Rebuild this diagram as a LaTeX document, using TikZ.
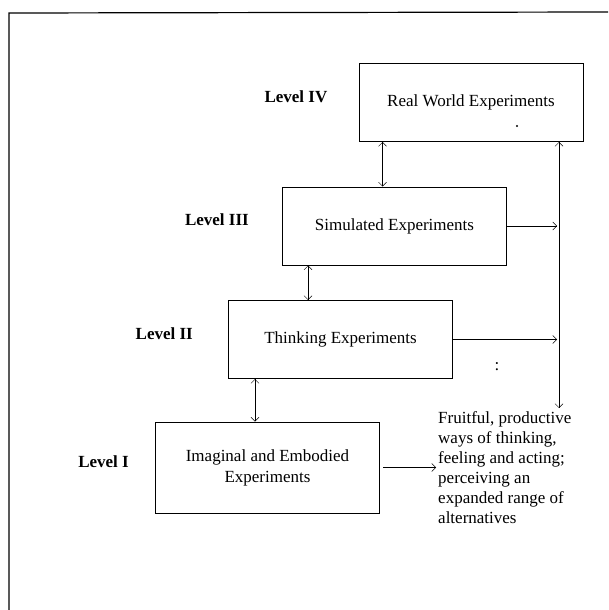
\documentclass[tikz,border=0pt]{standalone}
\usepackage{fontspec}
\setmainfont{Liberation Serif}
\usetikzlibrary{positioning,arrows.meta}

\begin{document}
\begin{tikzpicture}[x=1pt, y=-1pt,
    >={Straight Barb[length=4pt,width=8pt]},
    levelbox/.style={draw, line width=1pt, minimum width=224pt, minimum height=78pt, align=center, font=\fontsize{17}{21}\selectfont},
    levellabel/.style={inner sep=0pt, yshift=6pt, font=\fontsize{17}{21}\selectfont\bfseries},
    outtext/.style={inner sep=0pt, align=left, font=\fontsize{17}{20}\selectfont}
]
\useasboundingbox (0,0) rectangle (608,610);
\draw[line width=1.2pt] (608,12) -- (9,13) -- (9,610);
\node[levelbox](real) at (471,102.5){Real World Experiments};
\node[levelbox](sim) at (394.5,226){Simulated Experiments};
\node[levelbox](think) at (340.5,339.5){Thinking Experiments};
\node[levelbox, minimum height=91pt](emb) at (267.5,467.5){Imaginal and Embodied\\Experiments};
\node[levellabel](lvlfour)[left=31pt of real]{Level IV};
\node[levellabel](lvlthree)[left=33pt of sim]{Level III};
\node[levellabel](lvltwo)[left=35pt of think]{Level II};
\node[levellabel](lvlone)[left=26pt of emb]{Level I};
\node[outtext, anchor=north west](fruit) at (438,411){Fruitful, productive\\ways of thinking,\\feeling and acting;\\perceiving an\\expanded range of\\alternatives};
\node[font=\fontsize{17}{21}\selectfont](colon) at (497,367){:};
\fill (517,126) circle (1.2pt);
\coordinate (rail) at (559,0);
\draw[<->] ([xshift=24pt]real.south west) -- ([xshift=24pt]real.south west |- sim.north);
\draw[<->] ([xshift=26pt]sim.south west) -- ([xshift=26pt]sim.south west |- think.north);
\draw[<->] ([xshift=27pt]think.south west) -- ([xshift=27pt]think.south west |- emb.north);
\draw[<->] (rail |- real.south) -- (rail |- fruit.north) [shorten >=3pt];
\draw[->, shorten >=2pt] (sim.east) -- (rail |- sim.east);
\draw[->, shorten >=2pt] (think.east) -- (rail |- think.east);
\draw[->, shorten <=3pt, shorten >=2pt] (emb.east) -- (fruit.west |- emb.east);
\end{tikzpicture}
\end{document}
